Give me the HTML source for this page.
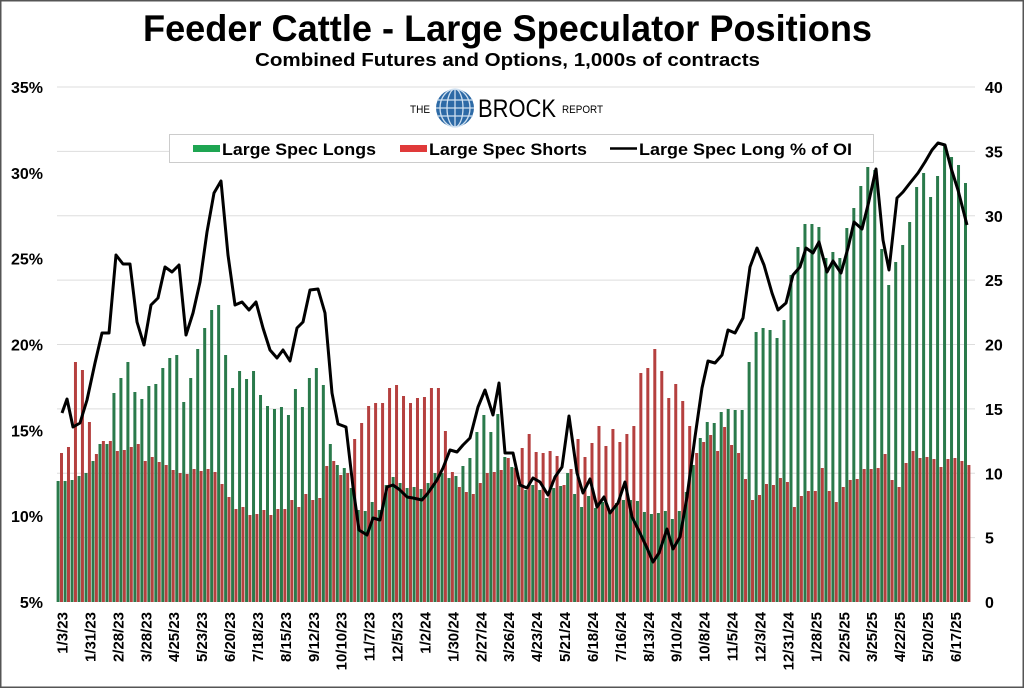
<!DOCTYPE html>
<html><head><meta charset="utf-8"><style>
html,body{margin:0;padding:0;background:#fff}
svg{display:block}
text{font-family:"Liberation Sans",Arial,sans-serif;font-weight:bold;fill:#000}
</style></head><body>
<svg id="c" width="1024" height="688" viewBox="0 0 1024 688" xmlns="http://www.w3.org/2000/svg">
<rect x="0.5" y="0.5" width="1023" height="687" fill="#fff" stroke="#555" stroke-width="2"/>
<text x="143" y="41" font-size="37" textLength="729" lengthAdjust="spacingAndGlyphs">Feeder Cattle - Large Speculator Positions</text>
<text x="255" y="66" font-size="18" textLength="505" lengthAdjust="spacingAndGlyphs">Combined Futures and Options, 1,000s of contracts</text>
<g id="grid"></g>
<g id="bars"></g>
<polyline id="ln" fill="none" stroke="#000" stroke-width="3" stroke-linejoin="round"/>
<g id="lab"></g>
<!-- logo -->
<text x="410" y="113" font-size="11" style="font-weight:normal" textLength="20" lengthAdjust="spacingAndGlyphs">THE</text>
<circle cx="455" cy="108" r="19" fill="#2d6aa6"/>
<g stroke="#cfe0f0" stroke-width="1.3" fill="none">
<ellipse cx="455" cy="108" rx="8" ry="19"/><ellipse cx="455" cy="108" rx="15" ry="19"/>
<line x1="455" y1="89" x2="455" y2="127"/><line x1="437" y1="100" x2="473" y2="100"/><line x1="436" y1="108" x2="474" y2="108"/><line x1="437" y1="116" x2="473" y2="116"/>
</g>
<text x="478" y="117" font-size="25" style="font-weight:normal" textLength="78" lengthAdjust="spacingAndGlyphs">BROCK</text>
<text x="562" y="113" font-size="11" style="font-weight:normal" textLength="41" lengthAdjust="spacingAndGlyphs">REPORT</text>
<!-- legend -->
<rect x="169.5" y="134.5" width="704" height="28" fill="#fff" stroke="#ccc"/>
<rect x="193" y="145" width="27" height="7" fill="#1ea552"/>
<text x="222" y="155" font-size="17" textLength="154" lengthAdjust="spacingAndGlyphs">Large Spec Longs</text>
<rect x="400" y="145" width="27" height="7" fill="#e03a3a"/>
<text x="429" y="155" font-size="17" textLength="158" lengthAdjust="spacingAndGlyphs">Large Spec Shorts</text>
<line x1="610" y1="148.5" x2="637" y2="148.5" stroke="#000" stroke-width="2.5"/>
<text x="639" y="155" font-size="17" textLength="213" lengthAdjust="spacingAndGlyphs">Large Spec Long % of OI</text>
</svg>
<script>
var NS="http://www.w3.org/2000/svg";
function el(p,t,a,tx){var e=document.createElementNS(NS,t);for(var k in a)e.setAttribute(k,a[k]);if(tx!=null)e.textContent=tx;document.getElementById(p).appendChild(e);return e;}
for(var k=0;k<=8;k++){var y=87+64.375*k;
 if(k<8)el("grid","line",{x1:57,x2:975,y1:y,y2:y,stroke:"#ddd","stroke-width":1});
 el("lab","text",{x:985,y:y+6,"font-size":16},String(40-5*k));}
for(var k=0;k<=6;k++){var y=87+85.83*k;el("lab","text",{x:43,y:y+6,"font-size":16,"text-anchor":"end"},(35-5*k)+"%");}
var G=[481,481,480,476,473,461,444,444,393,378,362,392,399,386,384,368,358,355,402,378,349,328,310,305,355,388,371,379,371,395,406,
409,407,415,389,407,378,368,385,444,465,468,488,510,511,502,510,485,477,483,488,487,489,483,473,473,478,476,466,458,432,415,432,414,
457,467,485,490,485,490,498,488,486,473,494,507,496,508,502,512,503,500,500,501,512,514,513,511,519,511,492,465,438,422,423,412,409,410,
410,362,332,328,330,338,320,275,247,224,224,227,258,252,258,228,208,186,167,170,249,285,262,245,222,187,173,197,176,145,157,165,183];
var R=[453,447,362,370,422,454,441,441,451,450,447,444,461,457,462,465,470,473,474,469,471,469,472,484,497,509,507,515,514,510,
515,509,509,500,507,494,500,498,466,461,475,473,439,423,406,403,403,388,385,396,403,398,397,388,388,431,472,487,492,494,483,473,472,
470,458,468,448,434,452,453,451,456,485,469,439,457,443,426,446,429,442,434,426,373,368,349,371,398,384,401,426,453,442,435,451,427,445,453,
479,500,495,484,485,478,482,507,496,491,491,468,491,502,487,480,479,469,469,468,454,480,487,463,451,458,457,459,467,459,458,461,465];
for(var i=0;i<G.length;i++){var x=60+6.98*i;
 el("bars","rect",{x:(x-3.4).toFixed(2),y:G[i],width:3,height:602-G[i],fill:"#2a7a4b"});
 el("bars","rect",{x:x.toFixed(2),y:R[i],width:3,height:602-R[i],fill:"#b5403f"});}
var L=[[62,413],[67,399],[73,427],[80,423],[87,400],[95,363],[102,333],[109,333],[116,255],[123,264],[130,264],[137,322],[144,345],[151,305],[158,298],[165,267],[172,272],[179,265],[186,335],[193,313],[200,282],[207,232],[214,193],[221,181],[228,255],[235,305],[242,302],[249,310],[256,302],[263,328],[270,350],[277,358],[283,350],[290,361],[297,328],[303,322],[310,290],[318,289],[325,313],[332,393],[338,424],[346,427],[353,487],[359,530],[367,535],[373,518],[380,520],[387,487],[393,485],[400,490],[407,497],[413,498],[422,500],[428,493],[437,480],[443,468],[450,450],[457,452],[463,445],[470,438],[478,407],[485,390],[493,415],[499,383],[505,453],[513,453],[520,485],[527,488],[533,478],[540,482],[548,495],[555,477],[562,467],[569,416],[577,473],[583,493],[590,479],[597,507],[604,497],[610,513],[618,503],[625,482],[632,517],[640,533],[647,548],[653,562],[659,553],[667,529],[673,549],[680,537],[687,497],[695,437],[702,388],[708,361],[715,363],[722,355],[728,330],[735,333],[743,318],[750,267],[757,248],[764,265],[772,293],[778,310],[786,303],[793,275],[800,267],[806,248],[813,253],[819,242],[827,272],[833,261],[841,273],[848,248],[854,222],[862,229],[868,205],[876,169],[883,240],[889,270],[897,198],[903,192],[910,183],[918,173],[925,162],[932,150],[938,143],[945,145],[951,168],[958,190],[967,225]];
document.getElementById("ln").setAttribute("points",L.map(function(p){return p.join(",")}).join(" "));
var labs=["1/3/23","1/31/23","2/28/23","3/28/23","4/25/23","5/23/23","6/20/23","7/18/23","8/15/23","9/12/23","10/10/23","11/7/23","12/5/23","1/2/24","1/30/24","2/27/24","3/26/24","4/23/24","5/21/24","6/18/24","7/16/24","8/13/24","9/10/24","10/8/24","11/5/24","12/3/24","12/31/24","1/28/25","2/25/25","3/25/25","4/22/25","5/20/25","6/17/25"];
for(var k=0;k<labs.length;k++){var x=62+27.92*k+5.5;
 el("lab","text",{x:0,y:0,"font-size":15,"text-anchor":"end",transform:"translate("+x.toFixed(1)+",612) rotate(-90)"},labs[k]);}
</script>
</body></html>
